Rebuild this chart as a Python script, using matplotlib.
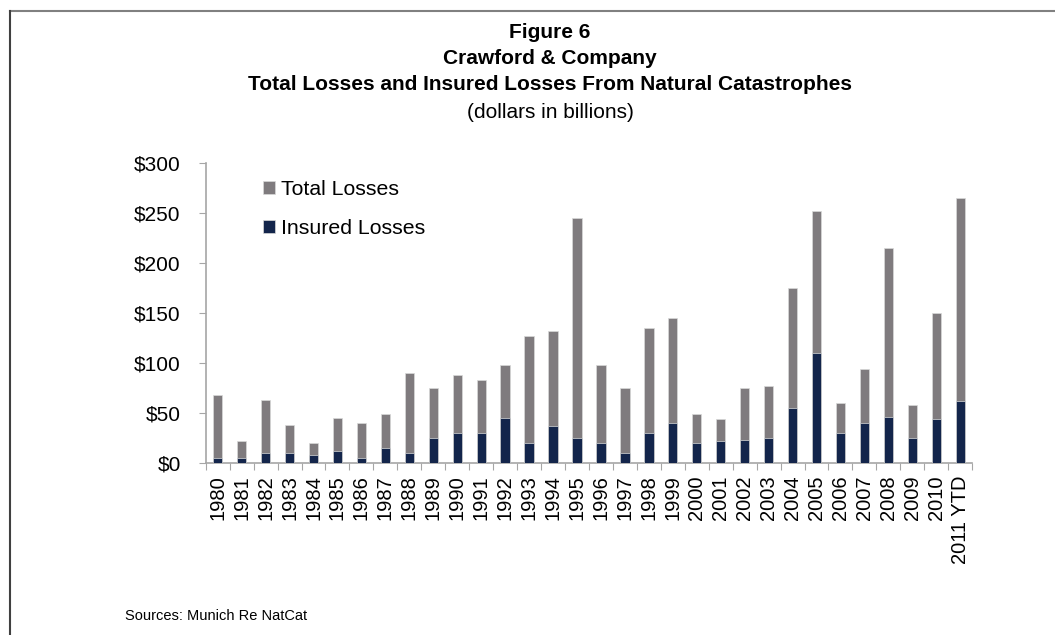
import matplotlib
matplotlib.use('Agg')
import matplotlib.pyplot as plt
from matplotlib.lines import Line2D
import numpy as np

plt.rcParams['font.family'] = ['Liberation Sans', 'DejaVu Sans']

years = ['1980', '1981', '1982', '1983', '1984', '1985', '1986', '1987',
         '1988', '1989', '1990', '1991', '1992', '1993', '1994', '1995',
         '1996', '1997', '1998', '1999', '2000', '2001', '2002', '2003',
         '2004', '2005', '2006', '2007', '2008', '2009', '2010', '2011 YTD']

# $ billions
total_losses = [68, 22, 63, 38, 20, 45, 40, 49, 90, 75, 88, 83, 98, 127,
                132, 245, 98, 75, 135, 145, 49, 44, 75, 77, 175, 252, 60,
                94, 215, 58, 150, 265]
insured_losses = [5, 5, 10, 10, 8, 12, 5, 15, 10, 25, 30, 30, 45, 20, 37,
                  25, 20, 10, 30, 40, 20, 22, 23, 25, 55, 110, 30, 40, 46,
                  25, 44, 62]

gray = '#7f7b7e'
navy = '#13254b'
axis_col = '#a6a6a6'

fig = plt.figure(figsize=(10.55, 6.35), dpi=100)
ax = fig.add_axes([0.195, 0.2709, 0.7265, 0.4724])

x = np.arange(len(years))
ax.bar(x, total_losses, width=0.39, color=gray, edgecolor='#d9d9d9',
       linewidth=0.5, label='Total Losses', zorder=2)
ax.bar(x, insured_losses, width=0.39, color=navy, edgecolor='#d9d9d9',
       linewidth=0.5, label='Insured Losses', zorder=3)

ax.set_xlim(-0.5, len(years) - 0.5)
ax.set_ylim(0, 300)

ax.set_yticks(np.arange(0, 301, 50))
ax.set_yticklabels(['$%d' % v for v in range(0, 301, 50)], fontsize=15)

# tick marks between the bars, year labels under the bars
ax.set_xticks(np.arange(len(years) + 1) - 0.5)
ax.set_xticklabels([])
ax.set_xticks(x, minor=True)
ax.set_xticklabels(years, minor=True, rotation=90, fontsize=14.5)
ax.tick_params(axis='x', which='major', direction='out', length=5,
               color=axis_col)
ax.tick_params(axis='x', which='minor', length=0, pad=9)
ax.tick_params(axis='y', direction='out', length=5, color=axis_col, pad=13)

for s in ['top', 'right']:
    ax.spines[s].set_visible(False)
for s in ['left', 'bottom']:
    ax.spines[s].set_color(axis_col)
    ax.spines[s].set_linewidth(1.2)

ax.legend(loc='upper left', bbox_to_anchor=(0.061, 0.98), frameon=False,
          fontsize=15.3, handlelength=0.55, handleheight=0.55,
          handletextpad=0.3, labelspacing=0.95, borderpad=0)

title_size = 15
title_x = 550 / 1055.
fig.text(title_x, 1 - 33 / 635., 'Figure 6', ha='center', va='center',
         fontsize=title_size, fontweight='bold')
fig.text(title_x, 1 - 59 / 635., 'Crawford & Company', ha='center',
         va='center', fontsize=title_size, fontweight='bold')
fig.text(title_x, 1 - 85 / 635.,
         'Total Losses and Insured Losses From Natural Catastrophes',
         ha='center', va='center', fontsize=title_size, fontweight='bold')
fig.text(title_x, 1 - 113 / 635., '(dollars in billions)', ha='center',
         va='center', fontsize=title_size)
fig.text(125 / 1055., 1 - 616 / 635., 'Sources: Munich Re NatCat',
         ha='left', va='center', fontsize=10.5)

# page frame
fig.add_artist(Line2D([10 / 1055., 1], [1 - 10.5 / 635.] * 2,
                      color='#808080', linewidth=1.5))
fig.add_artist(Line2D([10 / 1055.] * 2, [0, 1 - 10.5 / 635.],
                      color='#404040', linewidth=1.5))

fig.savefig('out.png', dpi=100)
